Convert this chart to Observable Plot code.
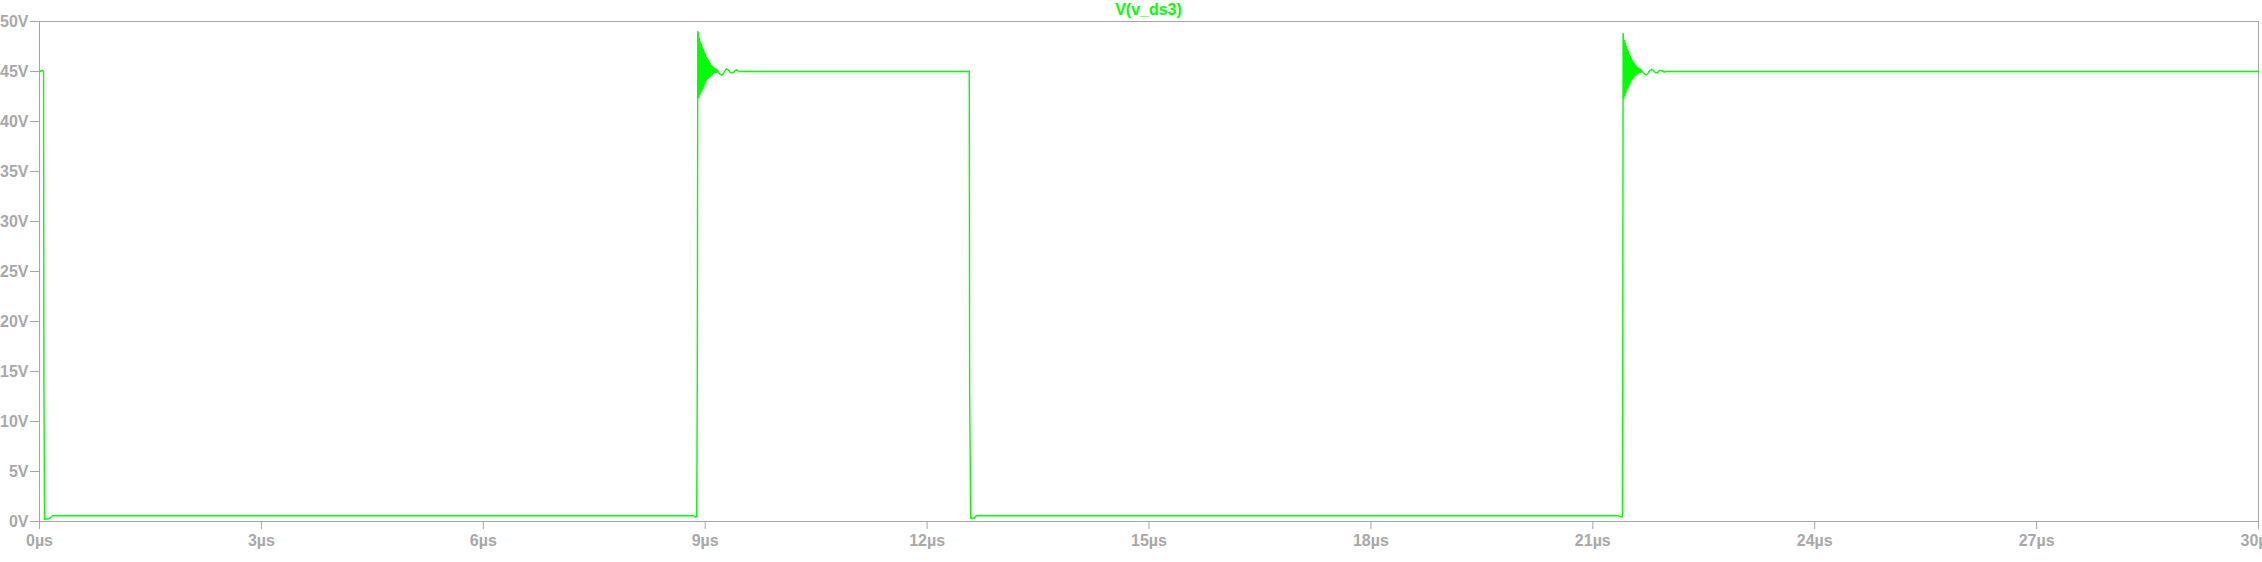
<!DOCTYPE html>
<html>
<head>
<meta charset="utf-8">
<script src="https://cdn.jsdelivr.net/npm/d3@7"></script>
<script src="https://cdn.jsdelivr.net/npm/@observablehq/plot@0.6"></script>
<style>
  html, body { margin: 0; padding: 0; background: #ffffff; overflow: hidden; }
  #title {
    box-sizing: border-box;
    width: 2262px; height: 16px; line-height: 19px;
    padding-left: 39px; padding-right: 4px;
    text-align: center;
    font-family: "Liberation Sans", Arial, sans-serif;
    font-weight: bold; font-size: 16px; color: #00ff00;
    white-space: nowrap;
  }
  #chart svg { display: block; }
</style>
</head>
<body>
<div id="title">V(v_ds3)</div>
<div id="chart"></div>
<script>
// ---- data (time in µs, voltage in V) ----
const seriesName = "V(v_ds3)";
const xTicks = [0, 3, 6, 9, 12, 15, 18, 21, 24, 27, 30];
const yTicks = [0, 5, 10, 15, 20, 25, 30, 35, 40, 45, 50];

// start, first turn-off, low plateau, first turn-on edge
const segmentStart = [
  [0.000, 45.0], [0.040, 45.1], [0.055, 45.0], [0.060, 13.5], [0.068, 0.23],
  [0.100, 0.25], [0.135, 0.30], [0.176, 0.57], [8.840, 0.57], [8.865, 0.45],
  [8.885, 0.50], [8.893, 14.2], [8.900, 49.0]
];

// first ringing burst (per column: upper / lower swing)
const ring1Time = [8.909, 8.922, 8.936, 8.949, 8.963, 8.976, 8.990, 9.003, 9.017, 9.030,
                   9.044, 9.057, 9.071, 9.084, 9.098, 9.111, 9.125, 9.138, 9.152, 9.166];
const ring1High = [48.8, 48.3, 47.9, 47.7, 47.4, 47.2, 46.9, 46.7, 46.4, 46.3,
                   46.1, 45.9, 45.8, 45.6, 45.5, 45.4, 45.3, 45.25, 45.2, 45.15];
const ring1Low  = [42.4, 42.7, 42.9, 43.1, 43.3, 43.5, 43.8, 44.0, 44.2, 44.3,
                   44.4, 44.5, 44.6, 44.7, 44.8, 44.85, 44.9, 44.9, 44.95, 45.0];

// settling, plateau, second turn-off, low plateau, second turn-on edge
const segmentMiddle = [
  [9.193, 44.8], [9.210, 44.68], [9.220, 44.65], [9.235, 44.7], [9.247, 44.8],
  [9.262, 45.0], [9.274, 45.15], [9.288, 45.25], [9.301, 45.22], [9.315, 45.12],
  [9.328, 45.0], [9.342, 44.9], [9.355, 44.87], [9.382, 44.9], [9.396, 45.02],
  [9.409, 45.12], [9.423, 45.15], [9.436, 45.12], [9.450, 45.05], [9.463, 45.0],
  [9.490, 45.0], [12.560, 45.0], [12.570, 45.05], [12.575, 13.0],
  [12.590, 0.33], [12.620, 0.30], [12.640, 0.35], [12.667, 0.57], [21.350, 0.57],
  [21.380, 0.45], [21.400, 0.50], [21.405, 14.8], [21.410, 48.8]
];

// second ringing burst
const ring2Time = [21.414, 21.428, 21.441, 21.455, 21.468, 21.482, 21.495, 21.509, 21.522, 21.536,
                   21.549, 21.563, 21.576, 21.590, 21.604, 21.617, 21.631, 21.644, 21.658];
const ring2High = [48.5, 48.1, 47.8, 47.5, 47.2, 47.0, 46.7, 46.5, 46.3, 46.1,
                   45.9, 45.8, 45.6, 45.5, 45.4, 45.3, 45.25, 45.2, 45.15];
const ring2Low  = [42.3, 42.6, 42.9, 43.2, 43.4, 43.6, 43.8, 44.0, 44.2, 44.3,
                   44.45, 44.55, 44.65, 44.75, 44.8, 44.85, 44.9, 44.95, 45.0];

// settling and final plateau
const segmentEnd = [
  [21.685, 44.85], [21.705, 44.72], [21.725, 44.67], [21.740, 44.75], [21.752, 44.9],
  [21.770, 45.1], [21.793, 45.2], [21.808, 45.17], [21.820, 45.1], [21.835, 44.95],
  [21.847, 44.87], [21.874, 44.87], [21.888, 45.0], [21.901, 45.1], [21.920, 45.1],
  [21.941, 45.05], [21.968, 44.95], [21.996, 45.0], [30.000, 45.0]
];

// ---- build the trace ----
function burst(ts, hi, lo) {
  const out = [];
  for (let i = 0; i < ts.length; i++) {
    const next = i + 1 < ts.length ? ts[i + 1] : ts[i] + (ts[i] - ts[i - 1]);
    out.push([ts[i], hi[i]]);
    out.push([(ts[i] + next) / 2, lo[i]]);
  }
  return out;
}
const trace = [
  ...segmentStart,
  ...burst(ring1Time, ring1High, ring1Low),
  ...segmentMiddle,
  ...burst(ring2Time, ring2High, ring2Low),
  ...segmentEnd
].map(([t, v]) => ({t, v, name: seriesName}));

const gridGray = "#a6a6a6";
const labelGray = "#a8a8a8";

const chart = Plot.plot({
  width: 2262,
  height: 546,
  marginTop: 5,
  marginBottom: 41,
  marginLeft: 39,
  marginRight: 4,
  style: {
    fontFamily: "'Liberation Sans', Arial, sans-serif",
    fontSize: "16px",
    fontWeight: "bold",
    color: labelGray,
    background: "#ffffff",
    overflow: "visible"
  },
  x: {domain: [0, 30]},
  y: {domain: [0, 50]},
  marks: [
    Plot.frame({stroke: gridGray, strokeWidth: 1}),
    Plot.axisY({
      ticks: yTicks, tickSize: 9, tickPadding: 2, stroke: gridGray,
      tickFormat: d => d + "V", label: null, fill: labelGray, fontSize: 16, fontWeight: "bold"
    }),
    Plot.axisX({
      ticks: xTicks, tickSize: 8, tickPadding: 5, stroke: gridGray,
      tickFormat: d => d + "µs", label: null, fill: labelGray, fontSize: 16, fontWeight: "bold"
    }),
    Plot.line(trace, {
      x: d => d.t, y: d => d.v,
      stroke: "#00ff00", strokeWidth: 1.4, curve: "linear"
    })
  ]
});
document.getElementById("chart").appendChild(chart);
</script>
</body>
</html>
